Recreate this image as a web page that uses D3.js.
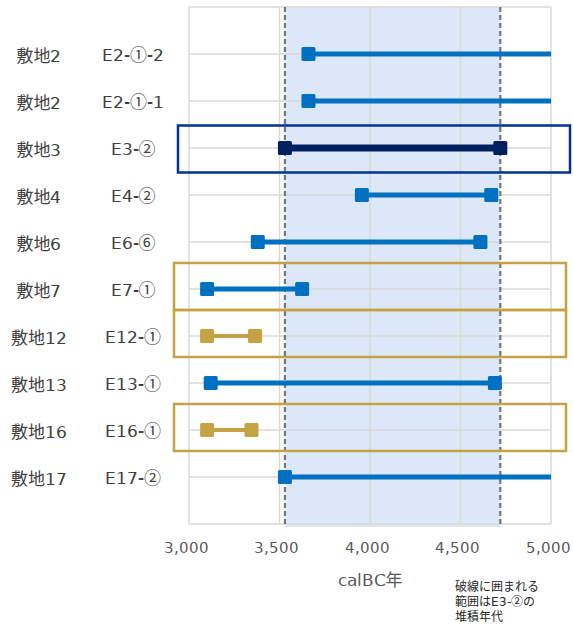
<!DOCTYPE html>
<html>
<head>
<meta charset="utf-8">
<script src="https://cdn.jsdelivr.net/npm/d3@7"></script>
<style>
  @font-face {
    font-family: "LatinPart";
    src: local("DejaVu Sans");
    unicode-range: U+0000-00FF;
  }
  body { margin: 0; background: #fff; }
  text { font-family: "LatinPart", "Noto Sans CJK JP", sans-serif; }
</style>
</head>
<body>
<div id="chart"></div>
<script>
// rows from top to bottom
var sites = ['敷地2', '敷地2', '敷地3', '敷地4', '敷地6', '敷地7', '敷地12', '敷地13', '敷地16', '敷地17'];
var samples = ['E2-①-2', 'E2-①-1', 'E3-②', 'E4-②', 'E6-⑥', 'E7-①', 'E12-①', 'E13-①', 'E16-①', 'E17-②'];
var startYears = [3660, 3660, 3530, 3955, 3380, 3100, 3100, 3120, 3100, 3530];
var endYears = [5150, 5150, 4720, 4670, 4610, 3625, 3365, 4690, 3345, 5150];
var groups = ['other', 'other', 'E3', 'other', 'other', 'other', 'gold', 'other', 'gold', 'other'];

var xTicks = [3000, 3500, 4000, 4500, 5000];
var bandRange = [3530, 4720];   // E3-② deposition range
var navyBoxed = ['E3-②'];
var goldBoxed = ['E7-①', 'E12-①', 'E16-①'];
var xTitle = 'calBC年';
var noteLines = ['破線に囲まれる', '範囲はE3-②の', '堆積年代'];

var width = 573, height = 627;
var margin = {top: 7, right: 22, bottom: 103, left: 189};

var colors = {other: '#0070c0', E3: '#002060', gold: '#c5a244'};
var lineWidths = {other: 5, E3: 7, gold: 4};

var svg = d3.select('#chart')
  .append('svg')
    .attr('width', width)
    .attr('height', height);

var x = d3.scaleLinear()
  .domain([3000, 5000])
  .range([margin.left, width - margin.right]);

var y = d3.scaleLinear()
  .domain([0, samples.length + 1])
  .range([height - margin.bottom, margin.top]);

// row value: first row at top
function rowVal(i) { return samples.length - i; }

// shaded band
svg.append('rect')
  .attr('x', x(bandRange[0]))
  .attr('y', y(samples.length + 1))
  .attr('width', x(bandRange[1]) - x(bandRange[0]))
  .attr('height', y(0) - y(samples.length + 1) + 3)
  .attr('fill', '#dce8f7');

// gridlines
svg.append('g')
  .selectAll('line')
  .data(xTicks)
  .enter()
  .append('line')
    .attr('x1', function(d) { return x(d); })
    .attr('x2', function(d) { return x(d); })
    .attr('y1', y(samples.length + 1))
    .attr('y2', y(0))
    .attr('stroke', '#d9d9d9')
    .attr('stroke-width', 1.5);

svg.append('g')
  .selectAll('line')
  .data(d3.range(0, samples.length + 2))
  .enter()
  .append('line')
    .attr('x1', x(3000))
    .attr('x2', x(5000))
    .attr('y1', function(d) { return y(d); })
    .attr('y2', function(d) { return y(d); })
    .attr('stroke', '#d9d9d9')
    .attr('stroke-width', 1.5);

// dashed lines for the band edges
svg.append('g')
  .selectAll('line')
  .data(bandRange)
  .enter()
  .append('line')
    .attr('x1', function(d) { return x(d); })
    .attr('x2', function(d) { return x(d); })
    .attr('y1', y(samples.length + 1))
    .attr('y2', y(0) + 3)
    .attr('stroke', '#767676')
    .attr('stroke-width', 2.2)
    .attr('stroke-dasharray', '5,3');

// x tick labels
svg.append('g')
  .selectAll('text')
  .data(xTicks)
  .enter()
  .append('text')
    .attr('x', function(d) { return x(d) - 3; })
    .attr('y', y(0) + 24)
    .attr('dominant-baseline', 'central')
    .attr('text-anchor', 'middle')
    .attr('font-size', '15px')
    .attr('fill', '#595959')
    .text(function(d) { return d3.format(',')(d); });

svg.append('text')
  .attr('x', (x(3000) + x(5000)) / 2)
  .attr('y', y(0) + 56)
  .attr('dominant-baseline', 'central')
  .attr('text-anchor', 'middle')
  .attr('font-size', '17px')
  .attr('fill', '#595959')
  .text(xTitle);

svg.append('g')
  .selectAll('text')
  .data(noteLines)
  .enter()
  .append('text')
    .attr('x', 455)
    .attr('y', function(d, i) { return 587 + i * 15; })
    .attr('dominant-baseline', 'central')
    .attr('font-size', '12px')
    .attr('fill', '#262626')
    .text(function(d) { return d; });

// row labels
svg.append('g')
  .selectAll('text')
  .data(sites)
  .enter()
  .append('text')
    .attr('x', 39)
    .attr('y', function(d, i) { return y(rowVal(i)) + 2; })
    .attr('dominant-baseline', 'central')
    .attr('text-anchor', 'middle')
    .attr('font-size', '17px')
    .attr('fill', '#404040')
    .text(function(d) { return d; });

svg.append('g')
  .selectAll('text')
  .data(samples)
  .enter()
  .append('text')
    .attr('x', 133)
    .attr('y', function(d, i) { return y(rowVal(i)) + 1; })
    .attr('dominant-baseline', 'central')
    .attr('text-anchor', 'middle')
    .attr('font-size', '17px')
    .attr('fill', '#404040')
    .text(function(d) { return d; });

// ranges, clipped to the plot
svg.append('clipPath')
  .attr('id', 'plot-clip')
  .append('rect')
    .attr('x', x(3000) - 20)
    .attr('y', y(samples.length + 1))
    .attr('width', x(5000) - x(3000) + 20)
    .attr('height', y(0) - y(samples.length + 1));

var rows = samples.map(function(s, i) {
  return {sample: s, row: rowVal(i), start: startYears[i], end: endYears[i], group: groups[i]};
});

var series = svg.append('g').attr('clip-path', 'url(#plot-clip)');

series.selectAll('line')
  .data(rows)
  .enter()
  .append('line')
    .attr('x1', function(d) { return x(d.start); })
    .attr('x2', function(d) { return x(d.end); })
    .attr('y1', function(d) { return y(d.row); })
    .attr('y2', function(d) { return y(d.row); })
    .attr('stroke', function(d) { return colors[d.group]; })
    .attr('stroke-width', function(d) { return lineWidths[d.group]; });

var markerSize = 14;
var points = [];
rows.forEach(function(d) {
  points.push({row: d.row, year: d.start, group: d.group});
  points.push({row: d.row, year: d.end, group: d.group});
});

series.selectAll('rect')
  .data(points)
  .enter()
  .append('rect')
    .attr('x', function(d) { return x(d.year) - markerSize / 2; })
    .attr('y', function(d) { return y(d.row) - markerSize / 2; })
    .attr('width', markerSize)
    .attr('height', markerSize)
    .attr('rx', 1.5)
    .attr('fill', function(d) { return colors[d.group]; });

// highlight boxes
var step = y(0) - y(1);
function drawBoxes(list, color, padLeft, padRight, shift) {
  svg.append('g')
    .selectAll('rect')
    .data(list)
    .enter()
    .append('rect')
      .attr('x', x(3000) - padLeft)
      .attr('y', function(d) { return y(rowVal(samples.indexOf(d))) - step / 2 + shift; })
      .attr('width', x(5000) - x(3000) + padLeft + padRight)
      .attr('height', step)
      .attr('fill', 'none')
      .attr('stroke', color)
      .attr('stroke-width', 2.5);
}
drawBoxes(navyBoxed, '#003399', 11, 19, 1);
drawBoxes(goldBoxed, '#c5a244', 15, 15, -2.5);
</script>
</body>
</html>
